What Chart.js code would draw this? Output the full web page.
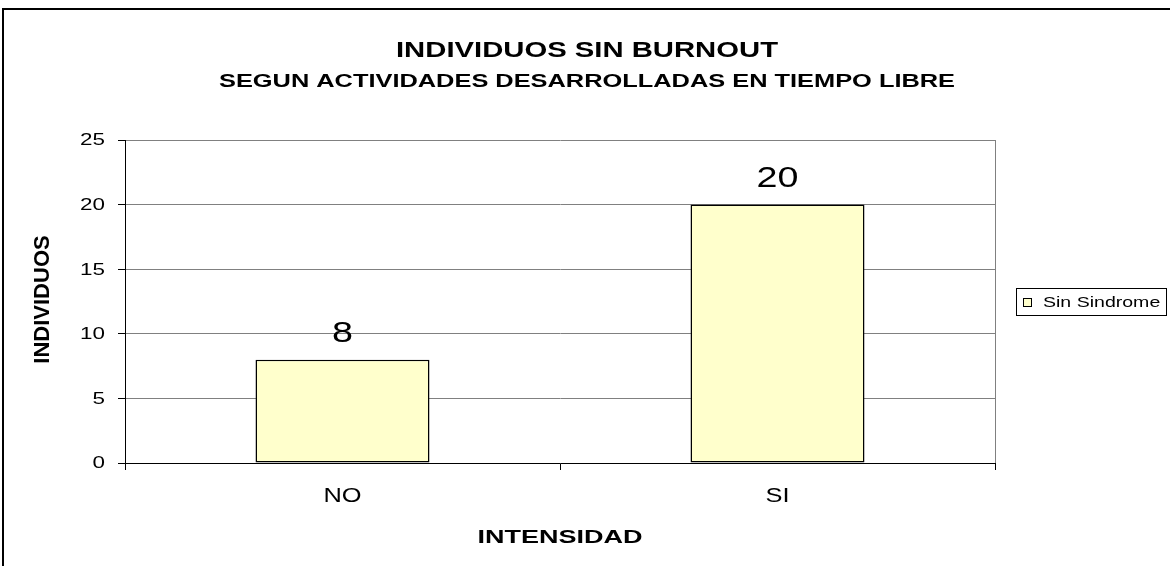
<!DOCTYPE html>
<html lang="es">
<head>
    <meta charset="UTF-8">
    <title>Individuos sin burnout</title>
    <script src="https://cdn.jsdelivr.net/npm/chart.js"></script>
    <style>
        html, body { margin: 0; padding: 0; background: #fff; }
        canvas { display: block; }
    </style>
</head>
<body>
    <canvas id="chart" width="1170" height="566"></canvas>

    <script>
        // data
        const categories = ["NO", "SI"];
        const sinSindrome = [8, 20];
        const yTicks = [0, 5, 10, 15, 20, 25];
        const seriesLabel = "Sin Sindrome";

        const FONT = '"Liberation Sans", Arial, sans-serif';

        // Excel-ish text is wider than plain Arial, so stretch it a bit
        function stretchText(ctx, text, x, y, font, sx, align, baseline) {
            ctx.save();
            ctx.font = font;
            ctx.fillStyle = "#000";
            ctx.textAlign = align;
            ctx.textBaseline = baseline;
            ctx.translate(x, y);
            ctx.scale(sx, 1);
            ctx.fillText(text, 0, 0);
            ctx.restore();
        }

        const excelLook = {
            id: "excelLook",
            beforeDatasetsDraw(chart) {
                const { ctx, chartArea } = chart;
                // right edge of plot area
                ctx.save();
                ctx.strokeStyle = "#808080";
                ctx.lineWidth = 1;
                ctx.beginPath();
                ctx.moveTo(Math.round(chartArea.right) + 0.5, chartArea.top);
                ctx.lineTo(Math.round(chartArea.right) + 0.5, chartArea.bottom);
                ctx.stroke();
                ctx.restore();
            },
            afterDraw(chart) {
                const { ctx, chartArea } = chart;
                const xScale = chart.scales.x;
                const yScale = chart.scales.y;

                // outer chart border (top and left only visible)
                ctx.save();
                ctx.strokeStyle = "#000";
                ctx.lineWidth = 2;
                ctx.beginPath();
                ctx.moveTo(3, 566);
                ctx.lineTo(3, 9);
                ctx.lineTo(1170, 9);
                ctx.stroke();
                ctx.restore();

                // titles
                stretchText(ctx, "INDIVIDUOS SIN BURNOUT", 587, 57, "bold 22px " + FONT, 1.33, "center", "alphabetic");
                stretchText(ctx, "SEGUN ACTIVIDADES DESARROLLADAS EN TIEMPO LIBRE", 587, 87, "bold 18px " + FONT, 1.41, "center", "alphabetic");

                // y tick labels
                yScale.ticks.forEach(t => {
                    stretchText(ctx, String(t.value), 105, yScale.getPixelForValue(t.value) + 1, "16px " + FONT, 1.4, "right", "middle");
                });

                // x tick labels
                categories.forEach((c, i) => {
                    stretchText(ctx, c, xScale.getPixelForValue(i), 502, "20px " + FONT, 1.27, "center", "alphabetic");
                });

                // axis titles
                stretchText(ctx, "INTENSIDAD", (chartArea.left + chartArea.right) / 2, 543, "bold 18px " + FONT, 1.5, "center", "alphabetic");
                ctx.save();
                ctx.translate(43, (chartArea.top + chartArea.bottom) / 2 - 2);
                ctx.rotate(-Math.PI / 2);
                ctx.font = "bold 22px " + FONT;
                ctx.fillStyle = "#000";
                ctx.textAlign = "center";
                ctx.textBaseline = "middle";
                ctx.fillText("INDIVIDUOS", 0, 0);
                ctx.restore();

                // value labels above the bars
                const meta = chart.getDatasetMeta(0);
                meta.data.forEach((bar, i) => {
                    stretchText(ctx, String(chart.data.datasets[0].data[i]), bar.x, bar.y - 18, "29px " + FONT, 1.3, "center", "alphabetic");
                });

                // legend
                const ds = chart.data.datasets[0];
                ctx.save();
                ctx.strokeStyle = "#000";
                ctx.lineWidth = 1;
                ctx.strokeRect(1016.5, 288.5, 150, 27);
                ctx.fillStyle = ds.backgroundColor;
                ctx.fillRect(1023.5, 298.5, 8, 8);
                ctx.strokeRect(1023.5, 298.5, 8, 8);
                ctx.restore();
                stretchText(ctx, ds.label, 1043, 307, "15.5px " + FONT, 1.26, "left", "alphabetic");
            }
        };

        new Chart(document.getElementById("chart"), {
            type: "bar",
            data: {
                labels: categories,
                datasets: [{
                    label: seriesLabel,
                    data: sinSindrome,
                    backgroundColor: "#FFFFCC",
                    borderColor: "#000",
                    borderWidth: 1.5,
                    borderSkipped: false,
                    barPercentage: 0.4,
                    categoryPercentage: 1.0
                }]
            },
            options: {
                responsive: false,
                animation: false,
                layout: { padding: { left: 0, top: 140, right: 175, bottom: 103 } },
                plugins: {
                    legend: { display: false },
                    tooltip: { enabled: false },
                    title: { display: false }
                },
                scales: {
                    x: {
                        offset: true,
                        grid: {
                            offset: true,
                            drawOnChartArea: false,
                            drawTicks: true,
                            tickLength: 7,
                            tickColor: "#000"
                        },
                        border: { color: "#000", width: 1 },
                        ticks: { display: false },
                        afterFit: s => { s.height = 0; }
                    },
                    y: {
                        min: 0,
                        max: 25,
                        afterBuildTicks: s => { s.ticks = yTicks.map(v => ({ value: v })); },
                        grid: {
                            color: "#808080",
                            lineWidth: 1,
                            tickColor: "#000",
                            tickLength: 7
                        },
                        border: { color: "#000", width: 1 },
                        ticks: { display: false },
                        afterFit: s => { s.width = 125; }
                    }
                }
            },
            plugins: [excelLook]
        });
    </script>
</body>
</html>
